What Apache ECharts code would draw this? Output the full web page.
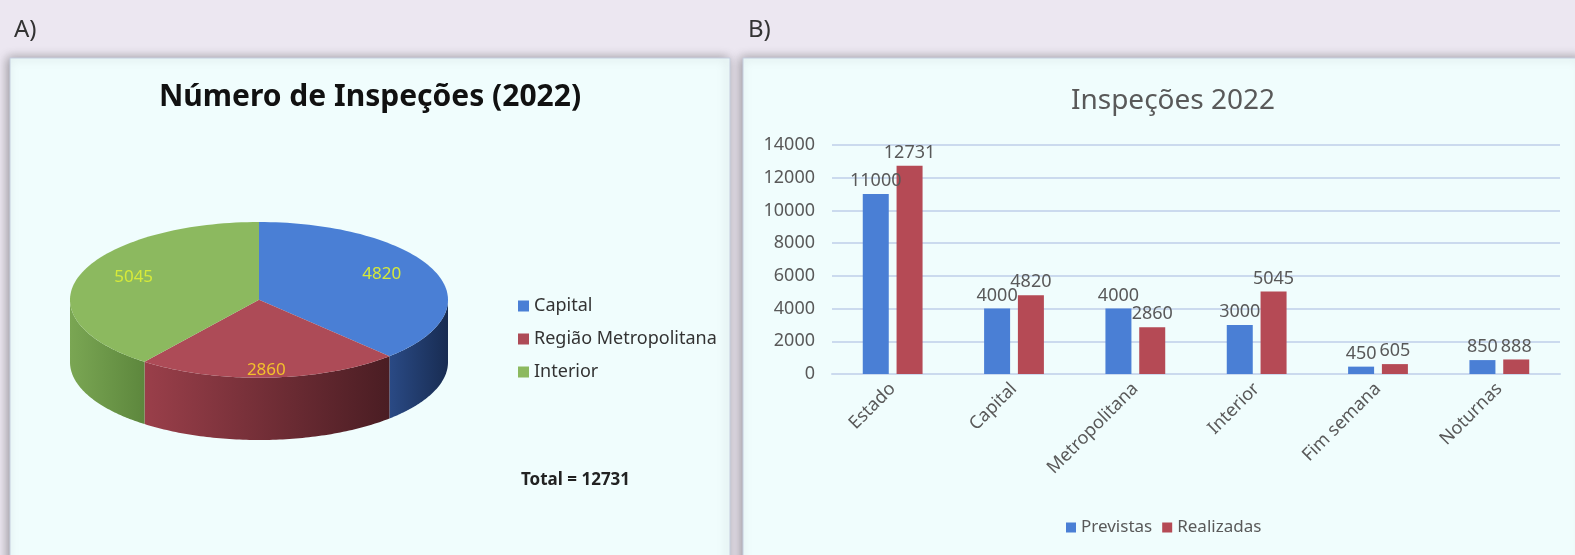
<!DOCTYPE html>
<html>
<head>
<meta charset="utf-8">
<script src="https://cdn.jsdelivr.net/npm/echarts@6/dist/echarts.min.js"></script>
<style>
html,body{margin:0;padding:0;background:#ece7f1;}
#main{width:1575px;height:555px;}
</style>
</head>
<body>
<div id="main"></div>
<script>
// painel A - pizza
var pieNames = ['Capital', 'Região Metropolitana', 'Interior'];
var pieValues = [4820, 2860, 5045];
var pieTotalText = 'Total = 12731';

// painel B - barras
var barCategories = ['Estado', 'Capital', 'Metropolitana', 'Interior', 'Fim semana', 'Noturnas'];
var previstas = [11000, 4000, 4000, 3000, 450, 850];
var realizadas = [12731, 4820, 2860, 5045, 605, 888];

var FONT = 'Noto Sans, sans-serif';
var topColors = ['#4a7fd5', '#ad4b57', '#8cb95f'];
var sideColors = [['#2a4a85', '#182c52'], ['#9a3f4a', '#4a1d23'], ['#7aa653', '#5d873d']];
var labelColors = ['#d6ea3a', '#f3c02c', '#d6ea3a'];
var DEPTH = 0.8;

var pieSum = 0;
for (var i = 0; i < pieValues.length; i++) pieSum += pieValues[i];

// fatia 3D desenhada a partir do valor
function sliceRender(idx){
	var start = 0;
	for (var k = 0; k < idx; k++) start += pieValues[k];
	var a0 = start / pieSum * Math.PI * 2;
	var a1 = (start + pieValues[idx]) / pieSum * Math.PI * 2;
	return function(params, api){
		var steps = 80, children = [];
		var s0 = Math.max(a0, Math.PI / 2), s1 = Math.min(a1, Math.PI * 1.5);
		if (s1 > s0) {
			var upper = [], lower = [];
			for (var i = 0; i <= steps; i++) {
				var a = s0 + (s1 - s0) * i / steps;
				upper.push(api.coord([Math.sin(a), Math.cos(a)]));
				lower.push(api.coord([Math.sin(a), Math.cos(a) - DEPTH]));
			}
			children.push({
				type: 'polygon',
				shape: {points: upper.concat(lower.reverse())},
				style: {fill: new echarts.graphic.LinearGradient(0, 0, 1, 0, [
					{offset: 0, color: sideColors[idx][0]},
					{offset: 1, color: sideColors[idx][1]}
				])}
			});
		}
		var top = [api.coord([0, 0])];
		for (var j = 0; j <= steps; j++) {
			var b = a0 + (a1 - a0) * j / steps;
			top.push(api.coord([Math.sin(b), Math.cos(b)]));
		}
		children.push({type: 'polygon', shape: {points: top}, style: {fill: topColors[idx]}});
		var m = (a0 + a1) / 2;
		var lp = api.coord([0.7 * Math.sin(m), 0.9 * Math.cos(m)]);
		children.push({
			type: 'text', x: lp[0], y: lp[1],
			style: {text: String(pieValues[idx]), fill: labelColors[idx], font: '17px ' + FONT, align: 'center', verticalAlign: 'middle'}
		});
		return {type: 'group', children: children};
	};
}

var pieSeries = [];
for (var p = 0; p < pieNames.length; p++) {
	pieSeries.push({
		name: pieNames[p],
		type: 'custom',
		coordinateSystem: 'cartesian2d',
		xAxisIndex: 1,
		yAxisIndex: 1,
		clip: false,
		silent: true,
		itemStyle: {color: topColors[p]},
		data: [[0, 0]],
		renderItem: sliceRender(p)
	});
}

var myChart = echarts.init(document.getElementById('main'));
var option = {
	backgroundColor: '#ece7f1',
	animation: false,
	textStyle: {fontFamily: FONT},
	graphic: [
		{type: 'rect', z: -10, shape: {x: 10, y: 58, width: 720, height: 510},
			style: {fill: '#f0fdfd', stroke: '#c6cfe0', lineWidth: 1, shadowBlur: 10, shadowColor: 'rgba(0,0,0,0.35)', shadowOffsetX: -2}},
		{type: 'rect', z: -10, shape: {x: 743, y: 58, width: 840, height: 510},
			style: {fill: '#f0fdfd', stroke: '#c6cfe0', lineWidth: 1, shadowBlur: 10, shadowColor: 'rgba(0,0,0,0.35)', shadowOffsetX: -2}},
		{type: 'text', x: 14, y: 30, style: {text: 'A)', font: '24px ' + FONT, fill: '#333', verticalAlign: 'middle'}},
		{type: 'text', x: 748, y: 30, style: {text: 'B)', font: '24px ' + FONT, fill: '#333', verticalAlign: 'middle'}},
		{type: 'text', x: 370, y: 97, style: {text: 'Número de Inspeções (2022)', font: 'bold 30px ' + FONT, fill: '#111', align: 'center', verticalAlign: 'middle'}},
		{type: 'text', x: 521, y: 480, style: {text: pieTotalText, font: 'bold 17px ' + FONT, fill: '#222', verticalAlign: 'middle'}}
	],
	title: {
		text: 'Inspeções 2022',
		left: 1168, top: 82,
		textAlign: 'center',
		textStyle: {fontSize: 28, fontWeight: 'normal', color: '#595959', fontFamily: FONT}
	},
	legend: [{
		data: pieNames,
		orient: 'vertical',
		left: 513, top: 292,
		itemGap: 15,
		icon: 'rect', itemWidth: 11, itemHeight: 11,
		textStyle: {fontSize: 18, color: '#333', fontFamily: FONT}
	}, {
		data: ['Previstas', 'Realizadas'],
		top: 514,
		left: 1061,
		itemGap: 10,
		icon: 'rect', itemWidth: 10, itemHeight: 10,
		textStyle: {fontSize: 17, color: '#595959', fontFamily: FONT}
	}],
	grid: [
		{left: 832, right: 15, top: 145, bottom: 181},
		{left: 70, width: 378, top: 222, height: 218}
	],
	xAxis: [{
		type: 'category',
		gridIndex: 0,
		data: barCategories,
		axisLine: {lineStyle: {color: '#cbdaee', width: 2}},
		axisTick: {show: false},
		axisLabel: {rotate: 45, fontSize: 18, color: '#595959', margin: 12}
	}, {
		type: 'value', gridIndex: 1, min: -1, max: 1, show: false
	}],
	yAxis: [{
		type: 'value',
		gridIndex: 0,
		min: 0, max: 14000, interval: 2000,
		axisLine: {show: false},
		axisTick: {show: false},
		axisLabel: {fontSize: 18, color: '#595959', margin: 17, formatter: function(v){ return String(v); }},
		splitLine: {lineStyle: {color: '#cbdaee', width: 2}}
	}, {
		type: 'value', gridIndex: 1, min: -1 - DEPTH, max: 1, show: false
	}],
	series: pieSeries.concat([{
		name: 'Previstas',
		type: 'bar',
		barWidth: 26,
		barGap: '30%',
		itemStyle: {color: '#4a7fd5'},
		label: {show: true, position: 'top', distance: 4, fontSize: 18, color: '#595959'},
		data: previstas
	}, {
		name: 'Realizadas',
		type: 'bar',
		barWidth: 26,
		itemStyle: {color: '#b54a55'},
		label: {show: true, position: 'top', distance: 4, fontSize: 18, color: '#595959'},
		data: realizadas
	}])
};
myChart.setOption(option);
</script>
</body>
</html>
